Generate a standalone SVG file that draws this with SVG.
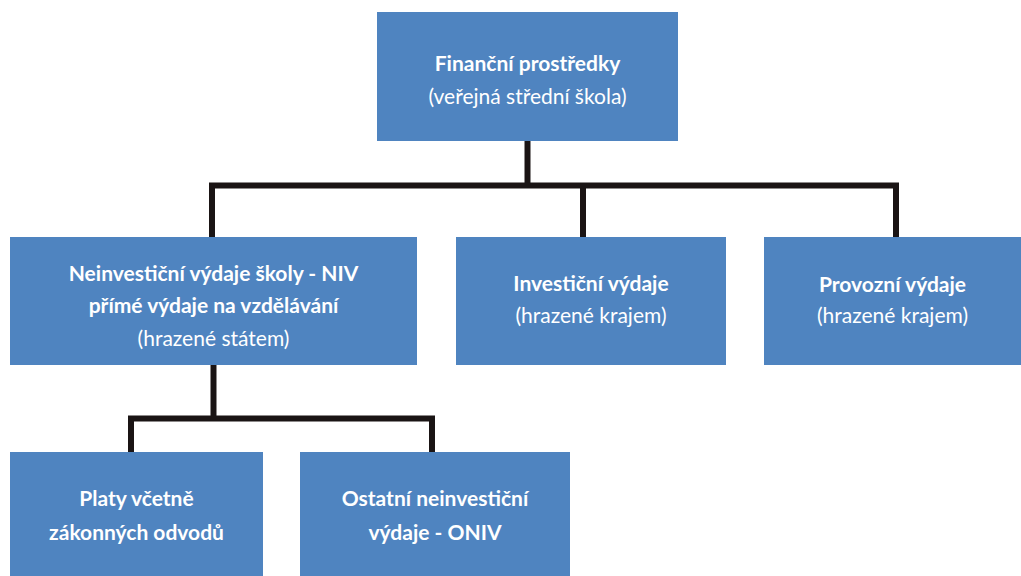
<svg xmlns="http://www.w3.org/2000/svg" width="1021" height="576" viewBox="0 0 1021 576">
<style>
.box{fill:#4F84C0;}
.t{font-family:Lato,"Open Sans","Liberation Sans",sans-serif;font-size:21px;fill:#ffffff;text-anchor:middle;}
.b{font-weight:bold;}
.c{fill:none;stroke:#1a1414;stroke-width:6;stroke-linejoin:miter;stroke-linecap:butt;}
</style>
<rect width="1021" height="576" fill="#ffffff"/>
<g id="connectors">
<path class="c" d="M527.5 140 V185.5"/>
<path class="c" d="M212 237 V185.5 H896 V237"/>
<path class="c" d="M583 185.5 V237"/>
<path class="c" d="M213.5 364 V418.5"/>
<path class="c" d="M131 452 V418.5 H432 V452"/>
</g>
<g id="n-top">
<rect class="box" x="377" y="12" width="301" height="129"/>
<text class="t b" x="527.5" y="71">Finanční prostředky</text>
<text class="t" x="527.5" y="104">(veřejná střední škola)</text>
</g>
<g id="n-niv">
<rect class="box" x="10" y="237" width="407" height="128"/>
<text class="t b" x="213.5" y="281">Neinvestiční výdaje školy - NIV</text>
<text class="t b" x="213.5" y="313">přímé výdaje na vzdělávání</text>
<text class="t" x="213.5" y="346">(hrazené státem)</text>
</g>
<g id="n-inv">
<rect class="box" x="456" y="237" width="270" height="128"/>
<text class="t b" x="591" y="291">Investiční výdaje</text>
<text class="t" x="591" y="323">(hrazené krajem)</text>
</g>
<g id="n-prov">
<rect class="box" x="764" y="237" width="257" height="128"/>
<text class="t b" x="892.5" y="292">Provozní výdaje</text>
<text class="t" x="892.5" y="323">(hrazené krajem)</text>
</g>
<g id="n-platy">
<rect class="box" x="10" y="452" width="253" height="124"/>
<text class="t b" x="136.5" y="506">Platy včetně</text>
<text class="t b" x="136.5" y="540">zákonných odvodů</text>
</g>
<g id="n-oniv">
<rect class="box" x="300" y="452" width="270" height="124"/>
<text class="t b" x="435" y="506">Ostatní neinvestiční</text>
<text class="t b" x="435" y="540">výdaje - ONIV</text>
</g>
</svg>
